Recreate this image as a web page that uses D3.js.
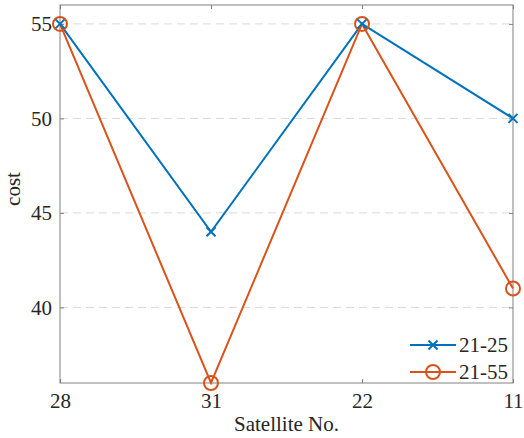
<!DOCTYPE html>
<html>
<head>
<meta charset="utf-8">
<script src="https://cdn.jsdelivr.net/npm/d3@7"></script>
<style>
  body { margin: 0; background: #fff; }
</style>
</head>
<body>
<div class="canvas"></div>
<script>
const satellites = ['28', '31', '22', '11'];
const cost2125 = [55, 44, 55, 50];
const cost2155 = [55, 36, 55, 41];
const yTicks = [40, 45, 50, 55];
const seriesNames = ['21-25', '21-55'];

const canvasWidth = 524;
const canvasHeight = 438;
const margin = { top: 5, left: 60, bottom: 55, right: 11 };
const graphWidth = canvasWidth - margin.left - margin.right;
const graphHeight = canvasHeight - margin.top - margin.bottom;

const serif = '"Liberation Serif", "Times New Roman", serif';
const blue = '#0072BD';
const orange = '#D95319';

const svg = d3.select('.canvas')
	.append('svg')
	.attr('width', canvasWidth)
	.attr('height', canvasHeight);

const graph = svg.append('g')
	.attr('transform', `translate(${margin.left},${margin.top})`);

const x = d3.scalePoint()
	.domain(satellites)
	.range([0, graphWidth])
	.padding(0);

const y = d3.scaleLinear()
	.domain([36, 56])
	.range([graphHeight, 0]);

// grid
graph.append('g')
	.selectAll('line')
	.data(yTicks)
	.enter()
	.append('line')
	.attr('x1', 0)
	.attr('x2', graphWidth)
	.attr('y1', d => y(d))
	.attr('y2', d => y(d))
	.attr('stroke', '#d9d9d9')
	.attr('stroke-width', 1)
	.attr('stroke-dasharray', '8,5');

// axes, ticks inward
const xAxis = d3.axisBottom(x).tickSizeInner(-4).tickSizeOuter(0).tickPadding(10);
const yAxis = d3.axisLeft(y).tickValues(yTicks).tickSizeInner(-4).tickSizeOuter(0).tickPadding(8);
const xAxisTop = d3.axisTop(x).tickSizeInner(-4).tickSizeOuter(0).tickFormat('');
const yAxisRight = d3.axisRight(y).tickValues(yTicks).tickSizeInner(-4).tickSizeOuter(0).tickFormat('');

graph.append('g').attr('transform', `translate(0,${graphHeight})`).call(xAxis);
graph.append('g').call(yAxis);
graph.append('g').call(xAxisTop);
graph.append('g').attr('transform', `translate(${graphWidth},0)`).call(yAxisRight);

graph.selectAll('.domain').remove();
graph.selectAll('.tick line').attr('stroke', '#808080');
graph.selectAll('.tick text')
	.style('font-family', serif)
	.style('font-size', '21px')
	.attr('fill', '#262626');

graph.append('rect')
	.attr('width', graphWidth)
	.attr('height', graphHeight)
	.attr('fill', 'none')
	.attr('stroke', '#808080')
	.attr('stroke-width', 1);

// lines
const line = d3.line()
	.x((d, i) => x(satellites[i]))
	.y(d => y(d));

graph.append('path')
	.datum(cost2125)
	.attr('d', line)
	.attr('fill', 'none')
	.attr('stroke', blue)
	.attr('stroke-width', 2);

graph.append('path')
	.datum(cost2155)
	.attr('d', line)
	.attr('fill', 'none')
	.attr('stroke', orange)
	.attr('stroke-width', 2);

function cross(g, cx, cy, s) {
	g.append('path')
		.attr('d', `M${cx - s},${cy - s}L${cx + s},${cy + s}M${cx - s},${cy + s}L${cx + s},${cy - s}`)
		.attr('stroke', blue)
		.attr('stroke-width', 2)
		.attr('fill', 'none');
}

graph.append('g')
	.selectAll('circle')
	.data(cost2155)
	.enter()
	.append('circle')
	.attr('cx', (d, i) => x(satellites[i]))
	.attr('cy', d => y(d))
	.attr('r', 7)
	.attr('fill', 'none')
	.attr('stroke', orange)
	.attr('stroke-width', 2);

const crosses = graph.append('g');
cost2125.forEach((d, i) => cross(crosses, x(satellites[i]), y(d), 4.5));

// legend
const legend = svg.append('g');
const legendY = [345, 372];
const colors = [blue, orange];
seriesNames.forEach((name, i) => {
	legend.append('line')
		.attr('x1', 410).attr('x2', 456)
		.attr('y1', legendY[i]).attr('y2', legendY[i])
		.attr('stroke', colors[i])
		.attr('stroke-width', 2);
	if (i === 0) {
		cross(legend, 433, legendY[i], 4.5);
	} else {
		legend.append('circle')
			.attr('cx', 433).attr('cy', legendY[i]).attr('r', 7)
			.attr('fill', 'none').attr('stroke', orange).attr('stroke-width', 2);
	}
	legend.append('text')
		.attr('x', 459)
		.attr('y', legendY[i])
		.attr('dy', '0.35em')
		.style('font-family', serif)
		.style('font-size', '21px')
		.attr('fill', '#262626')
		.text(name);
});

// axis titles
svg.append('text')
	.attr('x', margin.left + graphWidth / 2)
	.attr('y', 431)
	.attr('text-anchor', 'middle')
	.style('font-family', serif)
	.style('font-size', '21px')
	.attr('fill', '#262626')
	.text('Satellite No.');

svg.append('text')
	.attr('transform', `translate(20,${margin.top + graphHeight / 2 - 5}) rotate(-90)`)
	.attr('text-anchor', 'middle')
	.style('font-family', serif)
	.style('font-size', '21px')
	.attr('fill', '#262626')
	.text('cost');
</script>
</body>
</html>
